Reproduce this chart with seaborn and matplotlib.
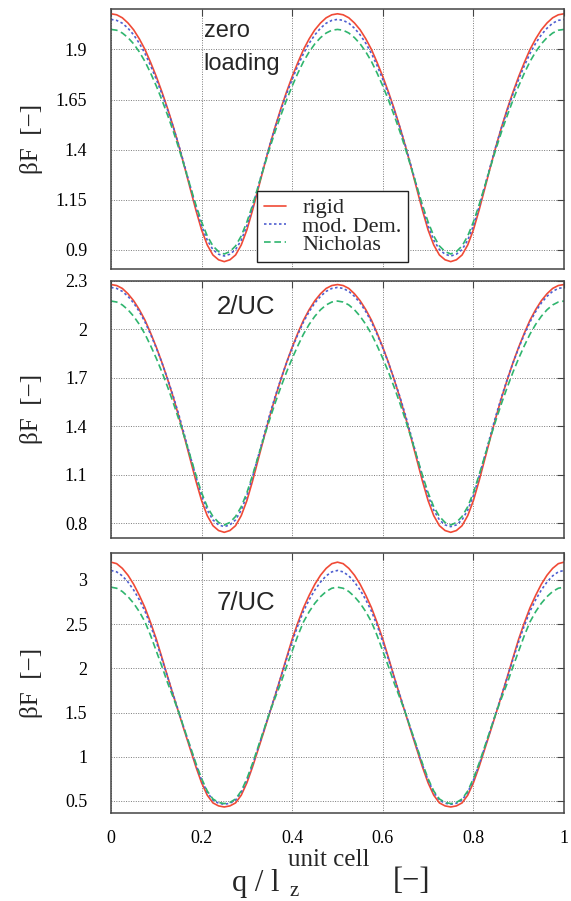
import numpy as np
import matplotlib
matplotlib.use('Agg')
import matplotlib.pyplot as plt
import seaborn as sns

# q / l_z grid (0 .. 1, step 0.0125)
q = np.linspace(0, 1, 81)

# zero loading
rigid_zero = [2.078, 2.073, 2.058, 2.032, 1.998, 1.953, 1.900, 1.835, 1.765, 1.688, 1.605, 1.515, 1.418, 1.313, 1.205, 1.098, 1.000, 0.925, 0.875, 0.851, 0.842,
              0.851, 0.875, 0.925, 1.000, 1.098, 1.205, 1.313, 1.418, 1.515, 1.605, 1.688, 1.765, 1.835, 1.900, 1.953, 1.998, 2.032, 2.058, 2.073, 2.078,
              2.073, 2.058, 2.032, 1.998, 1.953, 1.900, 1.835, 1.765, 1.688, 1.605, 1.515, 1.418, 1.313, 1.205, 1.098, 1.000, 0.925, 0.875, 0.851, 0.842,
              0.851, 0.875, 0.925, 1.000, 1.098, 1.205, 1.313, 1.418, 1.515, 1.605, 1.688, 1.765, 1.835, 1.900, 1.953, 1.998, 2.032, 2.058, 2.073, 2.078]
dem_zero = [2.050, 2.045, 2.031, 2.006, 1.973, 1.931, 1.880, 1.819, 1.751, 1.678, 1.598, 1.513, 1.420, 1.320, 1.217, 1.114, 1.021, 0.949, 0.902, 0.879, 0.870,
            0.879, 0.902, 0.949, 1.021, 1.114, 1.217, 1.320, 1.420, 1.513, 1.598, 1.678, 1.751, 1.819, 1.880, 1.931, 1.973, 2.006, 2.031, 2.045, 2.050,
            2.045, 2.031, 2.006, 1.973, 1.931, 1.880, 1.819, 1.751, 1.678, 1.598, 1.513, 1.420, 1.320, 1.217, 1.114, 1.021, 0.949, 0.902, 0.879, 0.870,
            0.879, 0.902, 0.949, 1.021, 1.114, 1.217, 1.320, 1.420, 1.513, 1.598, 1.678, 1.751, 1.819, 1.880, 1.931, 1.973, 2.006, 2.031, 2.045, 2.050]
nich_zero = [2.000, 1.996, 1.982, 1.959, 1.928, 1.888, 1.840, 1.782, 1.718, 1.648, 1.572, 1.492, 1.405, 1.312, 1.218, 1.124, 1.040, 0.970, 0.920, 0.892, 0.880,
             0.892, 0.920, 0.970, 1.040, 1.124, 1.218, 1.312, 1.405, 1.492, 1.572, 1.648, 1.718, 1.782, 1.840, 1.888, 1.928, 1.959, 1.982, 1.996, 2.000,
             1.996, 1.982, 1.959, 1.928, 1.888, 1.840, 1.782, 1.718, 1.648, 1.572, 1.492, 1.405, 1.312, 1.218, 1.124, 1.040, 0.970, 0.920, 0.892, 0.880,
             0.892, 0.920, 0.970, 1.040, 1.124, 1.218, 1.312, 1.405, 1.492, 1.572, 1.648, 1.718, 1.782, 1.840, 1.888, 1.928, 1.959, 1.982, 1.996, 2.000]

# 2 / UC
rigid_2 = [2.276, 2.270, 2.252, 2.219, 2.176, 2.121, 2.056, 1.976, 1.889, 1.794, 1.690, 1.579, 1.458, 1.328, 1.195, 1.062, 0.941, 0.848, 0.786, 0.756, 0.745,
           0.756, 0.786, 0.848, 0.941, 1.062, 1.195, 1.328, 1.458, 1.579, 1.690, 1.794, 1.889, 1.976, 2.056, 2.121, 2.176, 2.219, 2.252, 2.270, 2.276,
           2.270, 2.252, 2.219, 2.176, 2.121, 2.056, 1.976, 1.889, 1.794, 1.690, 1.579, 1.458, 1.328, 1.195, 1.062, 0.941, 0.848, 0.786, 0.756, 0.745,
           0.756, 0.786, 0.848, 0.941, 1.062, 1.195, 1.328, 1.458, 1.579, 1.690, 1.794, 1.889, 1.976, 2.056, 2.121, 2.176, 2.219, 2.252, 2.270, 2.276]
dem_2 = [2.258, 2.252, 2.234, 2.203, 2.162, 2.109, 2.045, 1.968, 1.884, 1.792, 1.692, 1.585, 1.469, 1.343, 1.215, 1.088, 0.972, 0.882, 0.822, 0.791, 0.780,
         0.791, 0.822, 0.882, 0.972, 1.088, 1.215, 1.343, 1.469, 1.585, 1.692, 1.792, 1.884, 1.968, 2.045, 2.109, 2.162, 2.203, 2.234, 2.252, 2.258,
         2.252, 2.234, 2.203, 2.162, 2.109, 2.045, 1.968, 1.884, 1.792, 1.692, 1.585, 1.469, 1.343, 1.215, 1.088, 0.972, 0.882, 0.822, 0.791, 0.780,
         0.791, 0.822, 0.882, 0.972, 1.088, 1.215, 1.343, 1.469, 1.585, 1.692, 1.792, 1.884, 1.968, 2.045, 2.109, 2.162, 2.203, 2.234, 2.252, 2.258]
nich_2 = [2.174, 2.168, 2.150, 2.120, 2.080, 2.030, 1.970, 1.898, 1.820, 1.735, 1.643, 1.545, 1.440, 1.330, 1.215, 1.098, 0.990, 0.903, 0.843, 0.806, 0.790,
          0.806, 0.843, 0.903, 0.990, 1.098, 1.215, 1.330, 1.440, 1.545, 1.643, 1.735, 1.820, 1.898, 1.970, 2.030, 2.080, 2.120, 2.150, 2.168, 2.174,
          2.168, 2.150, 2.120, 2.080, 2.030, 1.970, 1.898, 1.820, 1.735, 1.643, 1.545, 1.440, 1.330, 1.215, 1.098, 0.990, 0.903, 0.843, 0.806, 0.790,
          0.806, 0.843, 0.903, 0.990, 1.098, 1.215, 1.330, 1.440, 1.545, 1.643, 1.735, 1.820, 1.898, 1.970, 2.030, 2.080, 2.120, 2.150, 2.168, 2.174]

# 7 / UC
rigid_7 = [3.200, 3.183, 3.130, 3.052, 2.950, 2.825, 2.685, 2.515, 2.330, 2.120, 1.905, 1.695, 1.490, 1.285, 1.085, 0.885, 0.705, 0.565, 0.478, 0.444, 0.432,
           0.444, 0.478, 0.565, 0.705, 0.885, 1.085, 1.285, 1.490, 1.695, 1.905, 2.120, 2.330, 2.515, 2.685, 2.825, 2.950, 3.052, 3.130, 3.183, 3.200,
           3.183, 3.130, 3.052, 2.950, 2.825, 2.685, 2.515, 2.330, 2.120, 1.905, 1.695, 1.490, 1.285, 1.085, 0.885, 0.705, 0.565, 0.478, 0.444, 0.432,
           0.444, 0.478, 0.565, 0.705, 0.885, 1.085, 1.285, 1.490, 1.695, 1.905, 2.120, 2.330, 2.515, 2.685, 2.825, 2.950, 3.052, 3.130, 3.183, 3.200]
dem_7 = [3.106, 3.090, 3.045, 2.975, 2.885, 2.775, 2.645, 2.483, 2.300, 2.103, 1.900, 1.700, 1.500, 1.300, 1.105, 0.908, 0.735, 0.598, 0.510, 0.474, 0.462,
         0.474, 0.510, 0.598, 0.735, 0.908, 1.105, 1.300, 1.500, 1.700, 1.900, 2.103, 2.300, 2.483, 2.645, 2.775, 2.885, 2.975, 3.045, 3.090, 3.106,
         3.090, 3.045, 2.975, 2.885, 2.775, 2.645, 2.483, 2.300, 2.103, 1.900, 1.700, 1.500, 1.300, 1.105, 0.908, 0.735, 0.598, 0.510, 0.474, 0.462,
         0.474, 0.510, 0.598, 0.735, 0.908, 1.105, 1.300, 1.500, 1.700, 1.900, 2.103, 2.300, 2.483, 2.645, 2.775, 2.885, 2.975, 3.045, 3.090, 3.106]
nich_7 = [2.917, 2.905, 2.868, 2.810, 2.735, 2.640, 2.525, 2.370, 2.195, 2.020, 1.835, 1.668, 1.495, 1.305, 1.115, 0.925, 0.752, 0.612, 0.522, 0.483, 0.470,
          0.483, 0.522, 0.612, 0.752, 0.925, 1.115, 1.305, 1.495, 1.668, 1.835, 2.020, 2.195, 2.370, 2.525, 2.640, 2.735, 2.810, 2.868, 2.905, 2.917,
          2.905, 2.868, 2.810, 2.735, 2.640, 2.525, 2.370, 2.195, 2.020, 1.835, 1.668, 1.495, 1.305, 1.115, 0.925, 0.752, 0.612, 0.522, 0.483, 0.470,
          0.483, 0.522, 0.612, 0.752, 0.925, 1.115, 1.305, 1.495, 1.668, 1.835, 2.020, 2.195, 2.370, 2.525, 2.640, 2.735, 2.810, 2.868, 2.905, 2.917]

model_names = ['rigid', 'mod. Dem.', 'Nicholas']
panel_names = ['zero\nloading', '2/UC', '7/UC']

yticks_zero = [0.9, 1.15, 1.4, 1.65, 1.9]
ylabels_zero = ['0.9', '1.15', '1.4', '1.65', '1.9']
yticks_2 = [0.8, 1.1, 1.4, 1.7, 2.0, 2.3]
ylabels_2 = ['0.8', '1.1', '1.4', '1.7', '2', '2.3']
yticks_7 = [0.5, 1, 1.5, 2, 2.5, 3]
ylabels_7 = ['0.5', '1', '1.5', '2', '2.5', '3']
xticks = [0, 0.2, 0.4, 0.6, 0.8, 1]
xlabels = ['0', '0.2', '0.4', '0.6', '0.8', '1']

sns.set_theme(style='white')
plt.rcParams['font.family'] = ['Liberation Serif', 'DejaVu Serif']

colors = ['#f04a36', '#4f5fd0', '#2fb56e']
styles = ['-', (0, (1.5, 1.5)), (0, (4, 2.2))]

W, H = 571, 901
fig = plt.figure(figsize=(W / 100, H / 100), dpi=100)
left, width = 0.1944, 0.7933
boxes = [[left, 0.7014, width, 0.2882],
         [left, 0.4029, width, 0.2856],
         [left, 0.0973, width, 0.2886]]
series = [[rigid_zero, dem_zero, nich_zero],
          [rigid_2, dem_2, nich_2],
          [rigid_7, dem_7, nich_7]]
ylims = [(0.805, 2.1), (0.71, 2.3), (0.36, 3.3)]
yticks = [yticks_zero, yticks_2, yticks_7]
ylabels = [ylabels_zero, ylabels_2, ylabels_7]

axes = []
for i in range(3):
    ax = fig.add_axes(boxes[i])
    for vals, name, c, ls in zip(series[i], model_names, colors, styles):
        sns.lineplot(x=q, y=vals, ax=ax, color=c, linestyle=ls, linewidth=1.2,
                     label=name if i == 0 else None, legend=False)
    ax.set_xlim(0, 1)
    ax.set_ylim(*ylims[i])
    ax.set_xticks(xticks)
    ax.set_yticks(yticks[i])
    ax.set_yticklabels(ylabels[i], fontsize=13)
    if i == 2:
        ax.set_xticklabels(xlabels, fontsize=13)
    else:
        ax.set_xticklabels([])
    ax.grid(True, color='#7a7a7a', linestyle=(0, (1, 1.5)), linewidth=0.7)
    ax.tick_params(direction='in', length=5, width=0.8, color='#444444',
                   top=True, right=True, labelcolor='black')
    ax.tick_params(axis='y', pad=17)
    ax.tick_params(axis='x', pad=12)
    for s in ax.spines.values():
        s.set_color('#444444')
        s.set_linewidth(1.1)
    ax.set_xlabel('')
    ax.set_ylabel('βF  [−]', fontsize=18)
    ax.yaxis.set_label_coords(-0.15, 0.5)
    axes.append(ax)

ax1, ax2, ax3 = axes
ax1.text(0.205, 0.916, 'zero', transform=ax1.transAxes, fontsize=17,
         family='Liberation Sans', va='center', ha='left')
ax1.text(0.205, 0.789, 'loading', transform=ax1.transAxes, fontsize=17,
         family='Liberation Sans', va='center', ha='left')
ax2.text(0.233, 0.899, panel_names[1], transform=ax2.transAxes, fontsize=18.5,
         family='Liberation Sans', va='center', ha='left')
ax3.text(0.233, 0.808, panel_names[2], transform=ax3.transAxes, fontsize=18.5,
         family='Liberation Sans', va='center', ha='left')

leg = ax1.legend(loc='lower left', bbox_to_anchor=(0.322, 0.028), borderaxespad=0,
                 fontsize=16, handlelength=1.0, handletextpad=0.75, labelspacing=-0.1,
                 borderpad=0.3, fancybox=False, framealpha=1, edgecolor='#222222')
leg.get_frame().set_linewidth(1.0)


def px(x, y):
    return x / W, 1 - y / H


# x axis label, gnuplot-like stacked sub/superscript
fig.text(*px(232, 891), 'q / l', fontsize=22, va='baseline', ha='left')
fig.text(*px(288, 866), 'unit cell', fontsize=18, va='baseline', ha='left')
fig.text(*px(289, 896), 'z', fontsize=15, va='baseline', ha='left')
fig.text(*px(393, 889), '[−]', fontsize=22, va='baseline', ha='left')

fig.savefig('out.png', dpi=100)
